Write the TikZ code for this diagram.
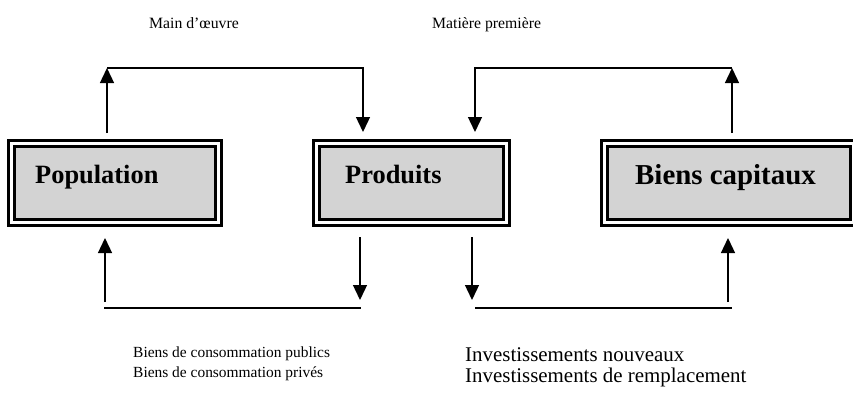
\documentclass[tikz,border=0pt]{standalone}
\usepackage{fontspec}
\setmainfont{Liberation Serif}
\usetikzlibrary{arrows.meta}
\definecolor{boxgray}{RGB}{211,211,211}
\tikzset{
  outerframe/.style={draw=black, line width=3bp},
  innerframe/.style={draw=black, fill=boxgray, line width=3bp},
  flow/.style={line width=1.3bp, -{Triangle[length=15bp,width=14bp]}},
  plain/.style={line width=1.3bp},
  boxlabel/.style={anchor=base west, inner sep=0pt, font=\bfseries\fontsize{26.5}{30}\selectfont},
  toplabel/.style={anchor=base west, inner sep=0pt, font=\fontsize{15.8}{18}\selectfont},
  leftlabel/.style={anchor=base west, inner sep=0pt, align=left, font=\fontsize{15.5}{20}\selectfont},
  rightlabel/.style={anchor=base west, inner sep=0pt, align=left, font=\fontsize{21}{21}\selectfont}
}
\begin{document}
\begin{tikzpicture}[x=1bp,y=-1bp]
\useasboundingbox (0,0) rectangle (853,392);
% boxes
\draw[outerframe] (8.5,140.5) rectangle (221.5,225.5);
\draw[innerframe] (14.5,146.5) rectangle (215.5,219.5);
\draw[outerframe] (313.5,140.5) rectangle (509.5,225.5);
\draw[innerframe] (319.5,146.5) rectangle (503.5,219.5);
\draw[outerframe] (601.5,140.5) rectangle (858,225.5);
\draw[innerframe] (607.5,146.5) rectangle (850.5,219.5);
\node[boxlabel] (pop) at (35,183) {Population};
\node[boxlabel] (prod) at (345,183) {Produits};
\node[boxlabel, font=\bfseries\fontsize{29}{32}\selectfont] (cap) at (635,184) {Biens capitaux};
% connector points
\coordinate (p1) at (107,133);
\coordinate (p2) at (107,68);
\coordinate (p3) at (363,68);
\coordinate (p4) at (363,132);
\coordinate (q1) at (732,133);
\coordinate (q2) at (732,68);
\coordinate (q3) at (475,68);
\coordinate (q4) at (475,132);
\coordinate (r1) at (105,302);
\coordinate (r2) at (105,238);
\coordinate (r3) at (360,237);
\coordinate (r4) at (360,300);
\coordinate (r5) at (104,308);
\coordinate (r6) at (361,308);
\coordinate (s1) at (472,237);
\coordinate (s2) at (472,300);
\coordinate (s3) at (728,302);
\coordinate (s4) at (728,238);
\coordinate (s5) at (475,308);
\coordinate (s6) at (732,308);
% connectors
\draw[flow] (p1) -- (p2);
\draw[flow] (p2) -- (p3) -- (p4);
\draw[flow] (q1) -- (q2);
\draw[flow] (q2) -- (q3) -- (q4);
\draw[flow] (r1) -- (r2);
\draw[flow] (r3) -- (r4);
\draw[plain] (r5) -- (r6);
\draw[flow] (s1) -- (s2);
\draw[flow] (s3) -- (s4);
\draw[plain] (s5) -- (s6);
% labels
\node[toplabel] (mo) at (149,28) {Main d’œuvre};
\node[toplabel] (mp) at (432,28) {Matière première};
\node[leftlabel] (bc) at (133,377) {Biens de consommation publics\\Biens de consommation privés};
\node[rightlabel] (inv) at (465,382) {Investissements nouveaux\\Investissements de remplacement};
\end{tikzpicture}
\end{document}
